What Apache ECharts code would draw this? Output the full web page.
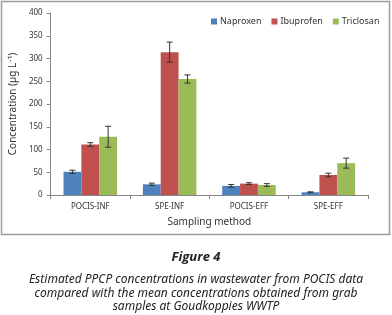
<!DOCTYPE html>
<html>
<head>
<meta charset="utf-8">
<script src="https://cdn.jsdelivr.net/npm/echarts@6/dist/echarts.min.js"></script>
<style>
html, body { margin: 0; padding: 0; background: #fff; }
#chart { width: 392px; height: 315px; }
</style>
</head>
<body>
<div id="chart"></div>
<script>
// sampling methods on the x axis
var categories = ['POCIS-INF', 'SPE-INF', 'POCIS-EFF', 'SPE-EFF'];
var seriesNames = ['Naproxen', 'Ibuprofen', 'Triclosan'];
// mean concentrations (µg/L)
var naproxen = [51, 23.5, 20, 6];
var ibuprofen = [111, 314, 25, 44];
var triclosan = [128, 255, 22, 70];
// error bar half widths
var naproxenErr = [3.5, 2.5, 3, 1];
var ibuprofenErr = [4, 22, 2, 4];
var triclosanErr = [23, 9, 3, 11];
var yTicks = [0, 50, 100, 150, 200, 250, 300, 350, 400];

var captionLines = [
    'Estimated PPCP concentrations in wastewater from POCIS data',
    'compared with the mean concentrations obtained from grab',
    'samples at Goudkoppies WWTP'
];

var colors = ['#4F81BD', '#C0504D', '#9BBB59'];
var values = [naproxen, ibuprofen, triclosan];
var errs = [naproxenErr, ibuprofenErr, triclosanErr];
var gapPct = 0.325;

var chart = echarts.init(document.getElementById('chart'));

var series = [];
values.forEach(function (vals, k) {
    series.push({
        name: seriesNames[k],
        type: 'bar',
        data: vals,
        barGap: 0,
        barCategoryGap: (gapPct * 100) + '%',
        itemStyle: { color: colors[k] },
        z: 2
    });
});
// error bars drawn on top of each bar
values.forEach(function (vals, k) {
    series.push({
        type: 'custom',
        silent: true,
        z: 5,
        data: vals.map(function (v, i) { return [i, v, errs[k][i]]; }),
        renderItem: function (params, api) {
            var ci = api.value(0), v = api.value(1), e = api.value(2);
            var band = api.size([1, 0])[0];
            var bw = band * (1 - gapPct) / 3;
            var c = api.coord([ci, v]);
            var x = c[0] + (k - 1) * bw;
            var top = api.coord([ci, v + e])[1];
            var bot = api.coord([ci, v - e])[1];
            var cap = 3;
            var st = { stroke: '#333', lineWidth: 1 };
            return {
                type: 'group',
                children: [
                    { type: 'line', shape: { x1: x, y1: top, x2: x, y2: bot }, style: st },
                    { type: 'line', shape: { x1: x - cap, y1: top, x2: x + cap, y2: top }, style: st },
                    { type: 'line', shape: { x1: x - cap, y1: bot, x2: x + cap, y2: bot }, style: st }
                ]
            };
        }
    });
});

var graphics = [{
    type: 'rect',
    shape: { x: 1.5, y: 1.5, width: 388, height: 233 },
    style: { fill: 'none', stroke: '#9a9a9a', lineWidth: 1.5 },
    silent: true
}, {
    type: 'text',
    x: 196,
    y: 251,
    style: {
        text: 'Figure 4', align: 'center', verticalAlign: 'top',
        font: 'italic bold 13px "Open Sans"', fill: '#222'
    }
}];
captionLines.forEach(function (line, i) {
    graphics.push({
        type: 'text',
        x: 196,
        y: 274 + i * 13.5,
        style: {
            text: line, align: 'center', verticalAlign: 'top',
            font: 'italic 12px "Noto Sans"', fill: '#222'
        }
    });
});

var option = {
    animation: false,
    textStyle: { fontFamily: 'Noto Sans' },
    graphic: graphics,
    legend: {
        data: seriesNames,
        top: 12,
        left: 206,
        itemWidth: 6,
        itemHeight: 6,
        itemGap: 10,
        icon: 'rect',
        textStyle: { fontSize: 9, color: '#333', padding: [0, 0, 0, -2] }
    },
    grid: { left: 48, right: 24, top: 13, bottom: 120 },
    xAxis: {
        type: 'category',
        data: categories,
        name: 'Sampling method',
        nameLocation: 'middle',
        nameGap: 22,
        nameTextStyle: { fontSize: 10, color: '#333' },
        axisLine: { lineStyle: { color: '#868686' } },
        axisTick: { show: true, length: 4, lineStyle: { color: '#868686' } },
        axisLabel: { fontSize: 8, color: '#333', margin: 8 }
    },
    yAxis: {
        type: 'value',
        min: yTicks[0],
        max: yTicks[yTicks.length - 1],
        interval: 50,
        name: 'Concentration (µg L⁻¹)',
        nameLocation: 'middle',
        nameGap: 28,
        nameTextStyle: { fontSize: 10, color: '#333' },
        axisLine: { show: true, lineStyle: { color: '#868686' } },
        axisTick: { show: true, length: 4, lineStyle: { color: '#868686' } },
        splitLine: { show: false },
        axisLabel: { fontSize: 8, color: '#333', margin: 8 }
    },
    series: series
};
chart.setOption(option);
</script>
</body>
</html>
